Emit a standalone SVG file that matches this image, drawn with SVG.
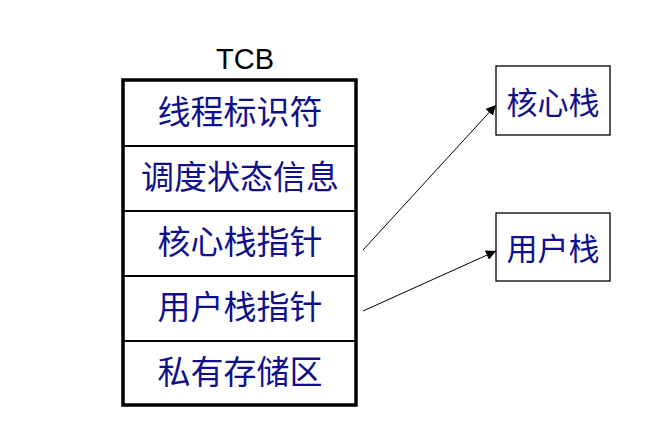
<svg xmlns="http://www.w3.org/2000/svg" width="671" height="428" viewBox="0 0 671 428">
<style>
.cell{fill:#fff;stroke:#000;stroke-width:2}
.frame{fill:none;stroke:#000;stroke-width:3.5}
.box{fill:#fff;stroke:#000;stroke-width:1.3}
.t{font-family:"Noto Sans CJK SC","Noto Sans",sans-serif;font-size:33px;fill:#10108c;text-anchor:middle;dominant-baseline:central}
.s{font-size:31px}
.title{font-family:"Liberation Sans",Arial,sans-serif;font-size:29px;fill:#000;text-anchor:middle}
.c{stroke:#000;stroke-width:1;fill:none}
</style>
<defs>
<marker id="ah" viewBox="0 0 10 10" refX="10" refY="5" markerWidth="10" markerHeight="10" markerUnits="userSpaceOnUse" orient="auto">
<path d="M0,0 L10,5 L0,10 z" fill="#000"/>
</marker>
</defs>
<rect width="671" height="428" fill="#fff"/>
<text class="title" x="245" y="69">TCB</text>
<g id="tcb">
<g id="row1"><rect class="cell" x="123" y="80" width="233" height="66"/><text class="t" x="240" y="110">线程标识符</text></g>
<g id="row2"><rect class="cell" x="123" y="146" width="233" height="65"/><text class="t" x="240" y="175">调度状态信息</text></g>
<g id="row3"><rect class="cell" x="123" y="211" width="233" height="65"/><text class="t" x="240" y="240">核心栈指针</text></g>
<g id="row4"><rect class="cell" x="123" y="276" width="233" height="65"/><text class="t" x="240" y="305">用户栈指针</text></g>
<g id="row5"><rect class="cell" x="123" y="341" width="233" height="64"/><text class="t" x="240" y="370">私有存储区</text></g>
<rect class="frame" x="123" y="80" width="233" height="325"/>
</g>
<g id="kstack"><rect class="box" x="496" y="66" width="114" height="69"/><text class="t s" x="553" y="100">核心栈</text></g>
<g id="ustack"><rect class="box" x="496" y="213" width="114" height="68"/><text class="t s" x="553" y="246">用户栈</text></g>
<g id="connectors">
<line class="c" x1="363" y1="250" x2="496" y2="105" marker-end="url(#ah)"/>
<line class="c" x1="363" y1="311" x2="496" y2="251" marker-end="url(#ah)"/>
</g>
</svg>
